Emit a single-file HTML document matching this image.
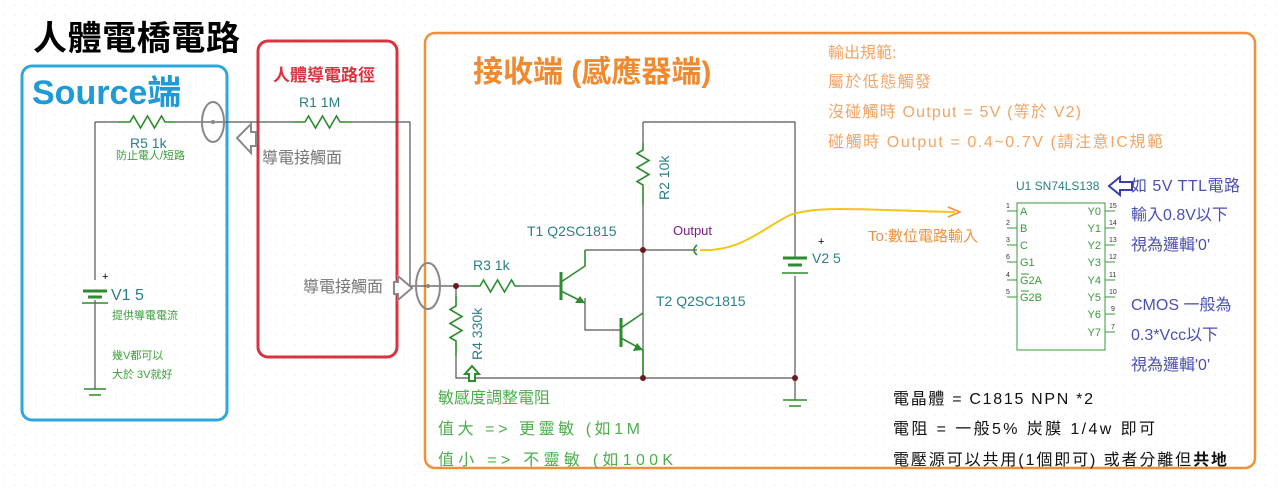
<!DOCTYPE html>
<html><head><meta charset="utf-8">
<style>
html,body{margin:0;padding:0;background:#fff;}
svg{display:block;}
text{font-family:"Liberation Sans","Noto Sans CJK TC",sans-serif;}
</style></head>
<body>
<svg width="1280" height="490" viewBox="0 0 1280 490" xmlns="http://www.w3.org/2000/svg">
<defs>
<pattern id="dots" width="10" height="10" patternUnits="userSpaceOnUse"><circle cx="5" cy="5" r="0.6" fill="#e4e4e4"/></pattern>
</defs>
<rect width="1280" height="490" fill="url(#dots)"/>

<text x="33" y="50" font-size="34" font-weight="bold" fill="#000" textLength="207">人體電橋電路</text>

<rect x="22" y="66" width="205" height="354" rx="10" fill="none" stroke="#2ea8dc" stroke-width="3"/>
<text x="32" y="104" font-size="34" font-weight="bold" fill="#1e9ad6">Source端</text>
<rect x="258" y="41" width="139" height="316" rx="10" fill="none" stroke="#d9333f" stroke-width="3"/>
<text x="273" y="81" font-size="17" font-weight="bold" fill="#d9333f" textLength="102">人體導電路徑</text>
<text x="299" y="107" font-size="14" fill="#2a7f87">R1 1M</text>
<rect x="425" y="33" width="830" height="435" rx="10" fill="none" stroke="#f0913a" stroke-width="2.5"/>
<text x="473" y="82" font-size="30" font-weight="bold" fill="#f08a30">接收端 (感應器端)</text>

<g font-size="16" fill="#f2a565">
<text x="828" y="58">輸出規範:</text>
<text x="828" y="87" textLength="103">屬於低態觸發</text>
<text x="828" y="117" textLength="253">沒碰觸時 Output = 5V (等於 V2)</text>
<text x="828" y="147" textLength="335">碰觸時 Output = 0.4~0.7V  (請注意IC規範</text>
</g>

<g stroke="#555" stroke-width="1.2" fill="none">
<path d="M95 122 H118 M175 122 H293 M352 122 H410 V286 H428"/>
<path d="M95 122 V280 M95 300 V380"/>
<path d="M428 286 H470 M520 286 H560"/>
<path d="M456 286 V296 M456 355 V378 H795"/>
<path d="M643 122 H795 V258 M795 276 V400"/>
<path d="M643 122 V143 M643 205 V378"/>
<path d="M585 250 H697"/>
<path d="M585 298 V330 H620"/>
</g>
<g stroke="#2e8b2e" stroke-width="1.6" fill="none">
<path d="M118 122 H130 l3.5 -6 l7 12 l7 -12 l7 12 l7 -12 l3.5 6 H175"/>
<path d="M293 122 H305 l3.5 -6 l7 12 l7 -12 l7 12 l7 -12 l3.5 6 H352"/>
<path d="M470 286 H480 l3.5 -6 l7 12 l7 -12 l7 12 l7 -12 l3.5 6 H520"/>
<path d="M643 143 V150 l-6 3.5 l12 7 l-12 7 l12 7 l-12 7 l6 3.5 V205"/>
<path d="M456 296 V306 l-6 3.5 l12 7 l-12 7 l12 7 l-12 7 l6 3.5 V355"/>
<path d="M561 272 V300" stroke-width="3"/>
<path d="M561 282 L585 266 V250 M561 291 L585 303"/>
<path d="M621 318 V347" stroke-width="3"/>
<path d="M621 328 L643 313 M621 338 L643 350 V378"/>
<path d="M83 291 H107 M88 297 H102" stroke-width="3"/>
<path d="M82 303 H108" stroke-width="1.5"/>
<path d="M783 258 H807 M788 265 H802" stroke-width="3"/>
<path d="M782 273 H808" stroke-width="1.5"/>
<path d="M697 245 q-6 5 0 10" />
</g>
<polygon points="585,303 575,303 580,296" fill="#2e8b2e"/>
<polygon points="643,350 633,351 637,343" fill="#2e8b2e"/>
<path d="M783 400 H807 M789 406 H801 M84 389 H106 M89 395 H101" stroke="#2e8b2e" stroke-width="1.5"/>
<path d="M95 380 V389" stroke="#555" stroke-width="1.2"/>

<g fill="#6b1a1a">
<circle cx="456" cy="286" r="3"/><circle cx="643" cy="250" r="3"/><circle cx="643" cy="378" r="3"/><circle cx="795" cy="378" r="3"/>
</g>
<g fill="none" stroke="#888" stroke-width="2">
<ellipse cx="213" cy="122" rx="11" ry="20"/>
<ellipse cx="428" cy="286" rx="12" ry="23"/>
</g>
<circle cx="213" cy="122" r="2" fill="#888"/><circle cx="428" cy="286" r="2" fill="#888"/>
<path d="M237 138 L251 124 V132 H256 V146 H251 V153 Z" fill="#fff" stroke="#888" stroke-width="2"/>
<path d="M412 288 L398 276 V282 H394 V294 H398 V300 Z" fill="#fff" stroke="#888" stroke-width="2"/>
<path d="M472 366 L465 374 H469 V381 H475 V374 H479 Z" fill="#fff" stroke="#2e8b2e" stroke-width="2"/>
<path d="M1109 186 L1120 177 V182 H1132 V190 H1120 V195 Z" fill="#fff" stroke="#3a3fa8" stroke-width="2"/>

<path d="M700 250 C740 252 760 230 790 215 C820 205 860 210 955 212" fill="none" stroke="#f5c518" stroke-width="2"/>
<path d="M948 207 L960 212 L948 217" fill="none" stroke="#f0913a" stroke-width="1.5"/>

<text x="262" y="163" font-size="16" fill="#777">導電接觸面</text>
<text x="303" y="292" font-size="16" fill="#777">導電接觸面</text>
<g fill="#2a7f87" font-size="14">
<text x="130" y="148">R5 1k</text>
<text x="111" y="300" font-size="16">V1 5</text>
<text x="473" y="270">R3 1k</text>
<text x="527" y="236">T1 Q2SC1815</text>
<text x="656" y="306">T2 Q2SC1815</text>
<text x="812" y="263">V2 5</text>
<text transform="translate(669,200) rotate(-90)">R2 10k</text>
<text transform="translate(482,360) rotate(-90)">R4 330k</text>
</g>
<text x="102" y="280" font-size="11" fill="#000">+</text>
<text x="818" y="245" font-size="11" fill="#000">+</text>
<text x="673" y="235" font-size="13" fill="#7a1f8a">Output</text>
<g fill="#3aa03a" font-size="11">
<text x="116" y="159">防止電人/短路</text>
<text x="112" y="319">提供導電電流</text>
<text x="112" y="359">幾V都可以</text>
<text x="112" y="378">大於 3V就好</text>
</g>
<text x="868" y="241" font-size="15" fill="#f0913a">To:數位電路輸入</text>

<rect x="1017" y="203" width="88" height="147" fill="none" stroke="#3a9a3a" stroke-width="1"/>
<text x="1016" y="190" font-size="12" fill="#2a7f87">U1 SN74LS138</text>
<g font-size="11" fill="#3a9a3a" stroke="none">
<text x="1020" y="215">A</text><text x="1020" y="232">B</text><text x="1020" y="249">C</text>
<text x="1020" y="266">G1</text><text x="1020" y="284">G2A</text><text x="1020" y="301">G2B</text>
<text x="1101" y="215" text-anchor="end">Y0</text><text x="1101" y="232" text-anchor="end">Y1</text>
<text x="1101" y="249" text-anchor="end">Y2</text><text x="1101" y="266" text-anchor="end">Y3</text>
<text x="1101" y="284" text-anchor="end">Y4</text><text x="1101" y="301" text-anchor="end">Y5</text>
<text x="1101" y="318" text-anchor="end">Y6</text><text x="1101" y="336" text-anchor="end">Y7</text>
</g>
<g stroke="#3a9a3a" stroke-width="1">
<path d="M1021 274 h8 M1021 291 h8"/>
<path d="M1007 211 h10 M1007 228 h10 M1007 245 h10 M1007 262 h10 M1007 280 h10 M1007 297 h10"/>
<path d="M1105 211 h10 M1105 228 h10 M1105 245 h10 M1105 262 h10 M1105 280 h10 M1105 297 h10 M1105 314 h10 M1105 332 h10"/>
</g>
<g font-size="7" fill="#333">
<text x="1006" y="208">1</text><text x="1006" y="225">2</text><text x="1006" y="242">3</text><text x="1006" y="259">6</text><text x="1006" y="277">4</text><text x="1006" y="294">5</text>
<text x="1109" y="208">15</text><text x="1109" y="225">14</text><text x="1109" y="242">13</text><text x="1109" y="259">12</text><text x="1109" y="277">11</text><text x="1109" y="294">10</text><text x="1111" y="311">9</text><text x="1111" y="329">7</text>
</g>
<g font-size="16" fill="#4a50b0">
<text x="1131" y="191" textLength="109">如 5V TTL電路</text>
<text x="1131" y="220">輸入0.8V以下</text>
<text x="1131" y="250">視為邏輯'0'</text>
<text x="1131" y="310">CMOS 一般為</text>
<text x="1131" y="340">0.3*Vcc以下</text>
<text x="1131" y="370">視為邏輯'0'</text>
</g>

<g font-size="16" fill="#4cae4c">
<text x="438" y="403">敏感度調整電阻</text>
<text x="438" y="434" textLength="202">值大 => 更靈敏 (如1M</text>
<text x="438" y="465" textLength="235">值小 => 不靈敏 (如100K</text>
</g>
<g font-size="16" fill="#111">
<text x="893" y="404" textLength="200">電晶體 = C1815  NPN *2</text>
<text x="893" y="434" textLength="262">電阻 = 一般5% 炭膜 1/4w 即可</text>
<text x="893" y="465" textLength="334">電壓源可以共用(1個即可) 或者分離但<tspan font-weight="bold">共地</tspan></text>
</g>
</svg>
</body></html>
